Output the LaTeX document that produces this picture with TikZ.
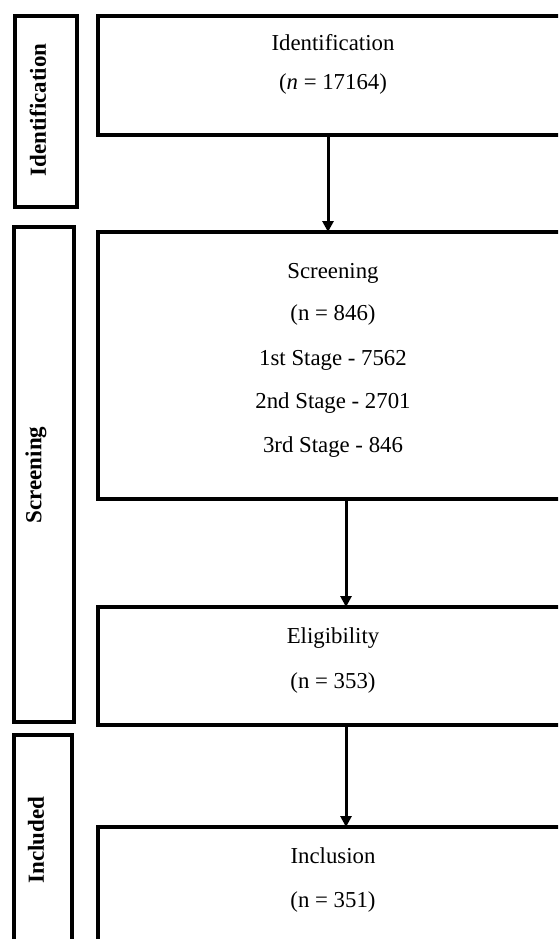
\documentclass[tikz,border=0pt]{standalone}
\usepackage{fontspec}
\setmainfont{Liberation Serif}
\usetikzlibrary{arrows.meta}
\begin{document}
\begin{tikzpicture}[x=1pt,y=-1pt,
  mainbox/.style={draw, line width=3.5pt, rectangle, inner sep=0pt, outer sep=0pt, anchor=north west},
  sidebox/.style={draw, line width=4pt, rectangle, inner sep=0pt, outer sep=0pt, anchor=north west},
  txt/.style={anchor=base, inner sep=0pt, font=\fontsize{22.8}{26}\selectfont},
  sidetxt/.style={rotate=90, inner sep=0pt, font=\fontsize{23}{26}\selectfont\bfseries},
  flow/.style={line width=3pt, -{Triangle[length=11pt,width=11pt]}}]
\useasboundingbox (0,0) rectangle (558,939);
\clip (0,0) rectangle (558,939);
\fill[white] (0,0) rectangle (558,939);
% side boxes
\node[sidebox, minimum width=62pt, minimum height=191pt] (s1) at (15,16) {};
\node[sidebox, minimum width=60pt, minimum height=495pt] (s2) at (14,227) {};
\node[sidebox, minimum width=58pt, minimum height=260pt] (s3) at (14,735) {};
\node[sidetxt] (l1) at (38,110) {Identification};
\node[sidetxt] (l2) at (36,475) {Screening};
\node[sidetxt] (l3) at (36,840) {Included};
% main boxes
\node[mainbox, minimum width=502pt, minimum height=119pt] (b1) at (98,16) {};
\node[mainbox, minimum width=502pt, minimum height=267pt] (b2) at (98,232) {};
\node[mainbox, minimum width=502pt, minimum height=118pt] (b3) at (98,607) {};
\node[mainbox, minimum width=502pt, minimum height=160pt] (b4) at (98,827) {};
% texts
\node[txt] (t1a) at (333,51) {Identification};
\node[txt] (t1b) at (333,90) {(\textit{n} = 17164)};
\node[txt] (t2a) at (333,278) {Screening};
\node[txt] (t2b) at (333,320) {(n = 846)};
\node[txt] (t2c) at (333,365) {1st Stage - 7562};
\node[txt] (t2d) at (333,408) {2nd Stage - 2701};
\node[txt] (t2e) at (333,452) {3rd Stage - 846};
\node[txt] (t3a) at (333,643) {Eligibility};
\node[txt] (t3b) at (333,688) {(n = 353)};
\node[txt] (t4a) at (333,863) {Inclusion};
\node[txt] (t4b) at (333,907) {(n = 351)};
% arrows
\coordinate (a1) at (328,0);
\coordinate (a2) at (346,0);
\draw[flow] (b1.south -| a1) -- (b2.north -| a1);
\draw[flow] (b2.south -| a2) -- (b3.north -| a2);
\draw[flow] (b3.south -| a2) -- (b4.north -| a2);
\end{tikzpicture}
\end{document}
